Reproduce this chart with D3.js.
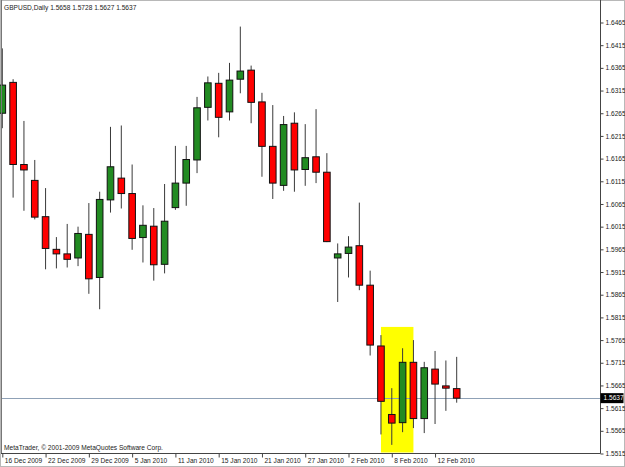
<!DOCTYPE html>
<meta charset="utf-8">
<style>
  body { margin: 0; background: #fff; }
  svg text { font-family: "Liberation Sans", Arial, sans-serif; font-size: 6.6px; fill: #222; }
</style>
<svg width="625" height="467"></svg>
<script src="https://d3js.org/d3.v7.min.js"></script>
<script>
  // daily bars
  var dates = ['16 Dec 2009', '17 Dec 2009', '18 Dec 2009', '21 Dec 2009', '22 Dec 2009', '23 Dec 2009',
    '24 Dec 2009', '28 Dec 2009', '29 Dec 2009', '30 Dec 2009', '31 Dec 2009', '4 Jan 2010', '5 Jan 2010',
    '6 Jan 2010', '7 Jan 2010', '8 Jan 2010', '11 Jan 2010', '12 Jan 2010', '13 Jan 2010', '14 Jan 2010',
    '15 Jan 2010', '18 Jan 2010', '19 Jan 2010', '20 Jan 2010', '21 Jan 2010', '22 Jan 2010', '25 Jan 2010',
    '26 Jan 2010', '27 Jan 2010', '28 Jan 2010', '29 Jan 2010', '1 Feb 2010', '2 Feb 2010', '3 Feb 2010',
    '4 Feb 2010', '5 Feb 2010', '8 Feb 2010', '9 Feb 2010', '10 Feb 2010', '11 Feb 2010', '12 Feb 2010',
    '15 Feb 2010', '16 Feb 2010']
  var open = [1.6265, 1.6333, 1.6152, 1.6117, 1.6037, 1.5965, 1.5955, 1.5946, 1.5998, 1.5903, 1.6074,
    1.6122, 1.6088, 1.5991, 1.6016, 1.5932, 1.6057, 1.6111, 1.6162, 1.6278, 1.6331, 1.6268, 1.6340,
    1.6360, 1.6290, 1.6192, 1.6106, 1.6243, 1.6141, 1.6169, 1.6135, 1.5946, 1.5956, 1.5973, 1.5886,
    1.5752, 1.5601, 1.5583, 1.5716, 1.5592, 1.5701, 1.5664, 1.5658]
  var high = [1.6408, 1.6340, 1.6248, 1.6162, 1.6100, 1.5992, 1.6021, 1.6015, 1.6067, 1.6092, 1.6235,
    1.6238, 1.6152, 1.6062, 1.6056, 1.6109, 1.6193, 1.6193, 1.6301, 1.6346, 1.6354, 1.6376, 1.6456,
    1.6370, 1.6310, 1.6283, 1.6259, 1.6267, 1.6241, 1.6274, 1.6177, 1.5978, 1.5994, 1.6068, 1.5918,
    1.5776, 1.5659, 1.5747, 1.5765, 1.5717, 1.5741, 1.5720, 1.5728]
  var low = [1.6232, 1.6079, 1.6050, 1.6031, 1.5921, 1.5923, 1.5925, 1.5928, 1.5867, 1.5833, 1.6046,
    1.6055, 1.5964, 1.5936, 1.5896, 1.5912, 1.6052, 1.6061, 1.6133, 1.6249, 1.6212, 1.6249, 1.6309,
    1.6243, 1.6125, 1.6076, 1.6094, 1.6092, 1.6105, 1.6111, 1.5981, 1.5849, 1.5903, 1.5875, 1.5731,
    1.5557, 1.5534, 1.5562, 1.5571, 1.5560, 1.5580, 1.5609, 1.5627]
  var close = [1.6327, 1.6152, 1.6140, 1.6036, 1.5967, 1.5955, 1.5943, 1.6000, 1.5900, 1.6075, 1.6147,
    1.6088, 1.5989, 1.6018, 1.5931, 1.6027, 1.6111, 1.6163, 1.6277, 1.6332, 1.6256, 1.6338, 1.6358,
    1.6289, 1.6192, 1.6111, 1.6240, 1.6140, 1.6167, 1.6135, 1.5982, 1.5955, 1.5970, 1.5886, 1.5754,
    1.5630, 1.5582, 1.5716, 1.5592, 1.5704, 1.5668, 1.5659, 1.5637]

  var priceTicks = [1.5515, 1.5565, 1.5615, 1.5665, 1.5715, 1.5765, 1.5815, 1.5865, 1.5915, 1.5965,
    1.6015, 1.6065, 1.6115, 1.6165, 1.6215, 1.6265, 1.6315, 1.6365, 1.6415, 1.6465]
  var dateTicks = ['16 Dec 2009', '22 Dec 2009', '29 Dec 2009', '5 Jan 2010', '11 Jan 2010', '15 Jan 2010',
    '21 Jan 2010', '27 Jan 2010', '2 Feb 2010', '8 Feb 2010', '12 Feb 2010']

  var title = 'GBPUSD,Daily  1.5658 1.5728 1.5627 1.5637'
  var footer = 'MetaTrader, \u00a9 2001-2009 MetaQuotes Software Corp.'

  // yellow box round the three bars
  var boxDates = ['5 Feb 2010', '10 Feb 2010']
  var boxPrices = [1.5515, 1.5794]

  var bars = dates.map(function (d, i) {
    return { date: d, o: open[i], h: high[i], l: low[i], c: close[i] }
  })
  var last = bars[bars.length - 1]

  var svg = d3.select('svg')
  var frameRight = 600.5
  var frameBottom = 453.5

  var x = d3.scalePoint().domain(dates).range([2.3, 456.7])
  var y = d3.scaleLinear().domain([1.5515, 1.6465]).range([453.5, 22.5])

  // window border
  svg.append('rect')
    .attr('x', 0.5).attr('y', 0.5).attr('width', 624).attr('height', 466)
    .attr('fill', '#fff').attr('stroke', '#b8b8b8')

  var plot = svg.append('g')

  plot.append('rect')
    .attr('x', x(boxDates[0]))
    .attr('y', y(boxPrices[1]))
    .attr('width', x(boxDates[1]) - x(boxDates[0]))
    .attr('height', y(boxPrices[0]) - y(boxPrices[1]) - 1)
    .attr('fill', '#ffff00')

  // bid line
  plot.append('line')
    .attr('x1', 1).attr('x2', frameRight)
    .attr('y1', Math.round(y(last.c)) + 0.5).attr('y2', Math.round(y(last.c)) + 0.5)
    .attr('stroke', '#8fa1b6')

  plot.selectAll('line.wick')
    .data(bars)
    .enter().append('line')
    .attr('class', 'wick')
    .attr('x1', d => x(d.date)).attr('x2', d => x(d.date))
    .attr('y1', d => y(d.h)).attr('y2', d => y(d.l))
    .attr('stroke', '#3a3a3a')
    .attr('stroke-width', 1)

  plot.selectAll('rect.body')
    .data(bars)
    .enter().append('rect')
    .attr('class', 'body')
    .attr('x', d => x(d.date) - 3.3)
    .attr('width', 6.6)
    .attr('y', d => y(Math.max(d.o, d.c)))
    .attr('height', d => Math.max(1, Math.abs(y(d.o) - y(d.c))))
    .attr('fill', d => d.c >= d.o ? '#228b22' : '#ff0000')
    .attr('stroke', '#111')
    .attr('stroke-width', 1)

  // frame
  svg.append('line')
    .attr('x1', 1.5).attr('x2', 1.5).attr('y1', 0).attr('y2', frameBottom)
    .attr('stroke', '#777')
  svg.append('line')
    .attr('x1', 1).attr('x2', frameRight).attr('y1', frameBottom).attr('y2', frameBottom)
    .attr('stroke', '#444')
  svg.append('line')
    .attr('x1', frameRight).attr('x2', frameRight).attr('y1', 0).attr('y2', frameBottom)
    .attr('stroke', '#444')

  // price scale
  var yAxis = svg.append('g')
    .attr('transform', 'translate(' + frameRight + ',0)')
    .call(d3.axisRight(y).tickValues(priceTicks).tickSize(3).tickPadding(2).tickFormat(d3.format('.4f')))
  yAxis.select('.domain').remove()
  yAxis.selectAll('line').attr('stroke', '#444')
  yAxis.selectAll('text').attr('font-size', null).attr('font-family', null).attr('fill', '#222')

  // current price tag
  svg.append('rect')
    .attr('x', frameRight).attr('y', y(last.c) - 5)
    .attr('width', 23).attr('height', 10)
    .attr('fill', '#000')
  svg.append('text')
    .attr('x', frameRight + 3).attr('y', y(last.c))
    .attr('dy', '0.34em')
    .style('fill', '#fff')
    .text(d3.format('.4f')(last.c))

  // time scale
  var xAxis = svg.append('g')
    .attr('transform', 'translate(0,' + frameBottom + ')')
    .call(d3.axisBottom(x).tickValues(dateTicks).tickSize(4))
  xAxis.select('.domain').remove()
  xAxis.selectAll('line').attr('stroke', '#444')
  xAxis.selectAll('text')
    .attr('font-size', null).attr('font-family', null).attr('fill', '#222')
    .attr('text-anchor', 'start')
    .attr('x', 2).attr('y', 5).attr('dy', '0.71em')

  svg.append('text').attr('x', 4).attr('y', 10).text(title)
  svg.append('text').attr('x', 4).attr('y', 450).text(footer)
</script>
